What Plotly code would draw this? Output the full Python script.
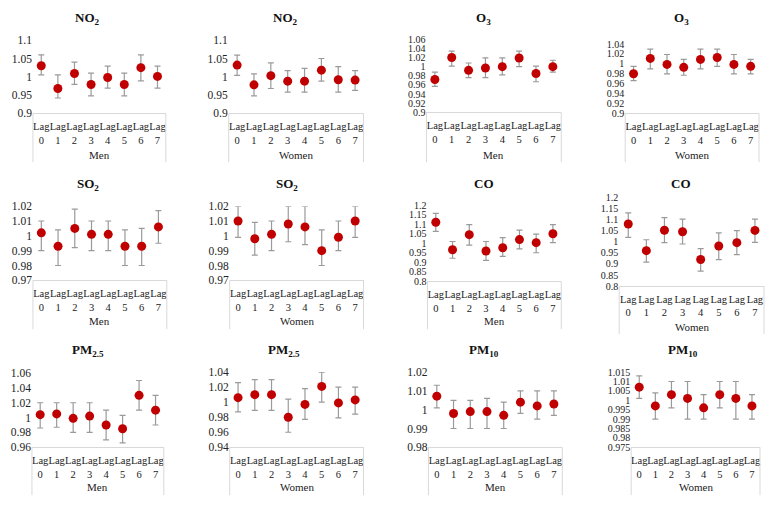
import plotly.graph_objects as go

W, H = 772, 506

categories = ["Lag 0", "Lag 1", "Lag 2", "Lag 3", "Lag 4", "Lag 5", "Lag 6", "Lag 7"]
cat_text = ["Lag<br>0", "Lag<br>1", "Lag<br>2", "Lag<br>3", "Lag<br>4", "Lag<br>5", "Lag<br>6", "Lag<br>7"]

# ---- data: odds ratio, lower CI, upper CI ----
no2_men_or = [1.030, 0.968, 1.009, 0.979, 0.998, 0.979, 1.025, 1.001]
no2_men_lo = [1.005, 0.942, 0.979, 0.948, 0.969, 0.948, 0.989, 0.969]
no2_men_hi = [1.060, 1.005, 1.040, 1.010, 1.029, 1.010, 1.060, 1.029]

no2_wom_or = [1.032, 0.978, 1.003, 0.988, 0.988, 1.018, 0.992, 0.991]
no2_wom_lo = [1.004, 0.948, 0.968, 0.958, 0.958, 0.988, 0.958, 0.963]
no2_wom_hi = [1.059, 1.008, 1.038, 1.017, 1.023, 1.050, 1.028, 1.017]

o3_men_or = [0.972, 1.020, 0.992, 0.997, 1.000, 1.019, 0.985, 1.000]
o3_men_lo = [0.957, 1.001, 0.976, 0.976, 0.982, 1.000, 0.967, 0.988]
o3_men_hi = [0.988, 1.034, 1.008, 1.019, 1.019, 1.034, 1.001, 1.014]

o3_wom_or = [0.980, 1.011, 0.999, 0.993, 1.009, 1.013, 0.999, 0.995]
o3_wom_lo = [0.966, 0.990, 0.980, 0.977, 0.990, 0.995, 0.980, 0.980]
o3_wom_hi = [0.995, 1.030, 1.019, 1.009, 1.030, 1.030, 1.019, 1.009]

so2_men_or = [1.002, 0.993, 1.005, 1.001, 1.001, 0.993, 0.993, 1.006]
so2_men_lo = [0.990, 0.980, 0.992, 0.990, 0.990, 0.980, 0.980, 0.995]
so2_men_hi = [1.010, 1.004, 1.018, 1.010, 1.010, 1.004, 1.005, 1.017]

so2_wom_or = [1.010, 0.998, 1.001, 1.008, 1.006, 0.990, 0.999, 1.010]
so2_wom_lo = [0.999, 0.987, 0.990, 0.996, 0.994, 0.980, 0.990, 0.999]
so2_wom_hi = [1.020, 1.009, 1.010, 1.020, 1.020, 1.004, 1.010, 1.020]

co_men_or = [1.110, 0.966, 1.045, 0.959, 0.976, 1.019, 1.003, 1.050]
co_men_lo = [1.062, 0.921, 0.990, 0.910, 0.931, 0.970, 0.950, 1.003]
co_men_hi = [1.157, 1.009, 1.098, 1.009, 1.029, 1.069, 1.048, 1.098]

co_wom_or = [1.080, 0.960, 1.052, 1.045, 0.920, 0.981, 0.996, 1.051]
co_wom_lo = [1.020, 0.908, 0.996, 0.990, 0.868, 0.920, 0.942, 0.997]
co_wom_hi = [1.130, 1.009, 1.109, 1.102, 0.969, 1.040, 1.050, 1.102]

pm25_men_or = [1.004, 1.005, 0.999, 1.002, 0.990, 0.985, 1.030, 1.010]
pm25_men_lo = [0.986, 0.987, 0.980, 0.980, 0.970, 0.966, 1.010, 0.990]
pm25_men_hi = [1.020, 1.020, 1.020, 1.020, 1.010, 1.003, 1.050, 1.030]

pm25_wom_or = [1.006, 1.010, 1.010, 0.980, 0.997, 1.021, 0.999, 1.003]
pm25_wom_lo = [0.987, 0.989, 0.989, 0.960, 0.977, 1.000, 0.979, 0.984]
pm25_wom_hi = [1.026, 1.030, 1.030, 1.004, 1.018, 1.040, 1.020, 1.020]

pm10_men_or = [1.0072, 0.998, 0.999, 0.999, 0.997, 1.004, 1.002, 1.003]
pm10_men_lo = [1.001, 0.990, 0.990, 0.990, 0.990, 0.998, 0.995, 0.997]
pm10_men_hi = [1.013, 1.005, 1.005, 1.006, 1.004, 1.010, 1.010, 1.010]

pm10_wom_or = [1.007, 0.997, 1.003, 1.001, 0.996, 1.003, 1.001, 0.997]
pm10_wom_lo = [1.001, 0.990, 0.996, 0.990, 0.990, 0.996, 0.990, 0.990]
pm10_wom_hi = [1.013, 1.004, 1.010, 1.010, 1.003, 1.010, 1.010, 1.003]

# ---- tick labels ----
ticks_no2 = ["0.9", "0.95", "1", "1.05", "1.1"]
ticks_o3_men = ["0.9", "0.92", "0.94", "0.96", "0.98", "1", "1.02", "1.04", "1.06"]
ticks_o3_wom = ["0.9", "0.92", "0.94", "0.96", "0.98", "1", "1.02", "1.04"]
ticks_so2 = ["0.97", "0.98", "0.99", "1", "1.01", "1.02"]
ticks_co = ["0.8", "0.85", "0.9", "0.95", "1", "1.05", "1.1", "1.15", "1.2"]
ticks_pm25_men = ["0.96", "0.98", "1", "1.02", "1.04", "1.06"]
ticks_pm25_wom = ["0.94", "0.96", "0.98", "1", "1.02", "1.04"]
ticks_pm10_men = ["0.98", "0.99", "1", "1.01", "1.02"]
ticks_pm10_wom = ["0.975", "0.98", "0.985", "0.99", "0.995", "1", "1.005", "1.01", "1.015"]

titles = ["NO<sub>2</sub>", "NO<sub>2</sub>", "O<sub>3</sub>", "O<sub>3</sub>",
          "SO<sub>2</sub>", "SO<sub>2</sub>", "CO", "CO",
          "PM<sub>2.5</sub>", "PM<sub>2.5</sub>", "PM<sub>10</sub>", "PM<sub>10</sub>"]
groups = ["Men", "Women"] * 6

series = [
    (no2_men_or, no2_men_lo, no2_men_hi, ticks_no2),
    (no2_wom_or, no2_wom_lo, no2_wom_hi, ticks_no2),
    (o3_men_or, o3_men_lo, o3_men_hi, ticks_o3_men),
    (o3_wom_or, o3_wom_lo, o3_wom_hi, ticks_o3_wom),
    (so2_men_or, so2_men_lo, so2_men_hi, ticks_so2),
    (so2_wom_or, so2_wom_lo, so2_wom_hi, ticks_so2),
    (co_men_or, co_men_lo, co_men_hi, ticks_co),
    (co_wom_or, co_wom_lo, co_wom_hi, ticks_co),
    (pm25_men_or, pm25_men_lo, pm25_men_hi, ticks_pm25_men),
    (pm25_wom_or, pm25_wom_lo, pm25_wom_hi, ticks_pm25_wom),
    (pm10_men_or, pm10_men_lo, pm10_men_hi, ticks_pm10_men),
    (pm10_wom_or, pm10_wom_lo, pm10_wom_hi, ticks_pm10_wom),
]

# ---- layout geometry in pixels: plot x0, x1, y top, y bottom, title x, title y, group label y, box bottom ----
geom = [
    (33, 166, 35, 110, 88, 13, 153, 160),
    (229, 364, 35, 110, 286, 13, 153, 160),
    (427, 562, 34, 109, 484, 13, 153, 160),
    (626, 760, 39, 110, 682, 13, 153, 160),
    (33, 167, 205, 281, 88, 183, 323, 331),
    (230, 364, 205, 281, 287, 183, 323, 331),
    (428, 562, 204, 282, 485, 182, 323, 331),
    (620, 765, 196, 287, 682, 182, 329, 336),
    (32, 164, 376, 452, 88, 353, 493, 501),
    (230, 364, 375, 452, 284, 353, 493, 501),
    (429, 563, 375, 452, 485, 353, 493, 501),
    (632, 761, 375, 452, 684, 353, 493, 501),
]

FONT = "'Liberation Serif', 'Times New Roman', Times, serif"
RED = "#C00000"
GRAY = "#9A9A9A"
LINE = "#D9D9D9"
TXT = "#222222"

fig = go.Figure()
annotations = []
shapes = []
layout_axes = {}

for i, ((orv, lo, hi, ticks), (x0, x1, yt, yb, tx, ty, gy, bb)) in enumerate(zip(series, geom)):
    n = i + 1
    xa = "x" if n == 1 else f"x{n}"
    ya = "y" if n == 1 else f"y{n}"
    up = [h - o for h, o in zip(hi, orv)]
    dn = [o - l for o, l in zip(orv, lo)]
    fig.add_trace(go.Scatter(
        x=categories, y=orv, mode="markers", xaxis=xa, yaxis=ya,
        marker=dict(color=RED, size=9),
        error_y=dict(type="data", symmetric=False, array=up, arrayminus=dn,
                     color=GRAY, thickness=1.2, width=3),
        showlegend=False, cliponaxis=False, hoverinfo="skip",
    ))
    tvals = [float(t) for t in ticks]
    ysize = 10 if len(ticks) > 6 else 11.5
    layout_axes[f"xaxis{n if n > 1 else ''}"] = dict(
        domain=[x0 / W, x1 / W], anchor=ya, type="category",
        categoryorder="array", categoryarray=categories,
        range=[-0.5, 7.5], tickvals=categories, ticktext=cat_text, tickangle=0,
        showline=True, linecolor=LINE, linewidth=1, showgrid=False, zeroline=False,
        ticks="outside", ticklen=3, tickcolor="rgba(0,0,0,0)",
        tickfont=dict(family=FONT, size=10.5, color=TXT), fixedrange=True,
    )
    layout_axes[f"yaxis{n if n > 1 else ''}"] = dict(
        domain=[1 - yb / H, 1 - yt / H], anchor=xa,
        range=[tvals[0], tvals[-1]], tickvals=tvals, ticktext=ticks,
        showline=False, showgrid=False, zeroline=False, ticks="",
        tickfont=dict(family=FONT, size=ysize, color=TXT), fixedrange=True,
    )
    annotations.append(dict(
        text=f"<b>{titles[i]}</b>", xref="paper", yref="paper",
        x=tx / W, y=1 - ty / H, xanchor="center", yanchor="middle",
        showarrow=False, font=dict(family=FONT, size=13, color="#111111"),
    ))
    annotations.append(dict(
        text=groups[i], xref=f"{xa} domain", yref="paper",
        x=0.5, y=1 - gy / H, xanchor="center", yanchor="middle",
        showarrow=False, font=dict(family=FONT, size=11, color=TXT),
    ))
    for xd in (0, 1):
        shapes.append(dict(
            type="line", xref=f"{xa} domain", yref="paper",
            x0=xd, x1=xd, y0=1 - yb / H, y1=1 - bb / H,
            line=dict(color=LINE, width=1),
        ))

fig.update_layout(
    width=W, height=H, margin=dict(l=0, r=0, t=0, b=0),
    paper_bgcolor="white", plot_bgcolor="white",
    font=dict(family=FONT), hovermode=False,
    annotations=annotations, shapes=shapes, **layout_axes,
)

fig.write_html(
    "out.html", config={"displayModeBar": False},
    post_script="document.body.style.margin='0px';"
                "document.body.style.overflow='hidden';"
                "document.documentElement.style.overflow='hidden';",
)
